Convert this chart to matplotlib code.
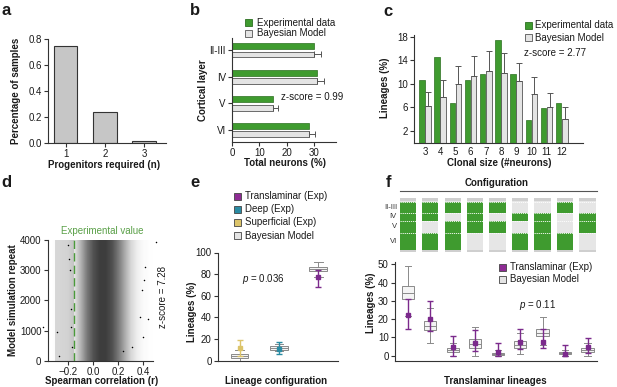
"""Six-panel lineage figure: progenitor counts, layer/clone-size fits, null
correlation cloud and configuration box plots (experiment vs Bayesian model)."""

import matplotlib

matplotlib.use("Agg")

import matplotlib.pyplot as plt
import numpy as np
from matplotlib.colors import LinearSegmentedColormap
from matplotlib.patches import Rectangle

plt.rcParams["font.family"] = ["Liberation Sans", "DejaVu Sans"]
plt.rcParams["mathtext.fontset"] = "custom"
plt.rcParams["mathtext.it"] = "Liberation Sans:italic"
plt.rcParams["mathtext.rm"] = "Liberation Sans"

INK, AXIS = "#1a1a1a", "#333333"
GREEN, GREEN_EDGE = "#3f9b2f", "#2c6f20"
MODEL_FILL, MODEL_EDGE = "#e4e4e4", "#555555"
BOX_EDGE = "#8a8a8a"
PURPLE, TEAL, GOLD = "#7b2a8c", "#2a8ba3", "#dcc46a"
W, H = 617, 387

# --- a: progenitors required
PROGENITORS = [1, 2, 3]
PROGENITOR_SHARE = [0.75, 0.235, 0.012]

# --- b: layer distribution
LAYERS = ["II-III", "IV", "V", "VI"]
LAYER_EXP = [30, 31, 15, 28]
LAYER_MODEL = [30, 31, 15, 28]
LAYER_MODEL_ERR = [2.4, 2.5, 1.9, 2.4]

# --- c: clonal size
CLONE_SIZES = [3, 4, 5, 6, 7, 8, 9, 10, 11, 12]
CLONE_EXP = [10.6, 14.5, 6.8, 10.6, 11.6, 17.5, 11.6, 3.9, 5.8, 6.8]
CLONE_MODEL = [6.2, 7.8, 9.9, 11.4, 12.2, 11.9, 10.4, 8.3, 6.1, 4.0]
CLONE_MODEL_ERR = [2.4, 2.9, 3.1, 3.3, 3.3, 3.3, 3.1, 2.8, 2.3, 2.0]

# --- d: simulated Spearman r (density of the 4000-repeat cloud, read off)
R_GRID = [-0.35, -0.30, -0.25, -0.20, -0.15, -0.10, -0.05, 0.00, 0.05,
          0.10, 0.15, 0.20, 0.25, 0.30, 0.35, 0.40, 0.45]
R_DENSITY = [0.0, 0.02, 0.03, 0.05, 0.14, 0.38, 0.66, 0.85, 0.95,
             0.95, 0.86, 0.66, 0.42, 0.2, 0.08, 0.03, 0.01]
R_OUTLIERS = [-0.40, -0.29, -0.27, -0.198, -0.19, -0.184, -0.18, -0.18, -0.17,
              0.50, 0.416, 0.41, 0.39, 0.376, 0.44, 0.40, 0.31, 0.24]
REPEAT_OUTLIERS = [1110, 945, 170, 3830, 3355, 3000, 1720, 1110, 445,
                   3945, 3110, 2670, 2330, 1445, 1390, 780, 445, 335]
R_EXPERIMENTAL = -0.15
R_SHADED_FROM = -0.30

# --- e: lineage configuration
GROUP_COLORS = [GOLD, TEAL, PURPLE]
GROUP_MODEL_LO = [0, 9, 77]
GROUP_MODEL_Q1 = [2.5, 10, 82.5]
GROUP_MODEL_MED = [4.5, 12, 85]
GROUP_MODEL_Q3 = [6.5, 13.6, 87]
GROUP_MODEL_HI = [10, 15.5, 91.5]
GROUP_EXP = [11.5, 10.8, 77.5]
GROUP_EXP_LO = [4, 6.2, 68.3]
GROUP_EXP_HI = [19.5, 17.5, 84]

# --- f: translaminar configurations (rows II-III, IV, V, VI; 1 = labelled)
CONFIG_PATTERNS = [
    [1, 1, 1, 1], [1, 1, 0, 1], [1, 0, 1, 1], [1, 1, 1, 0], [1, 0, 1, 0],
    [0, 1, 0, 1], [0, 1, 1, 1], [1, 0, 0, 1], [0, 1, 1, 0],
]
TRANS_LO = [21.5, 7, 0, 0, 0, 1, 6, 0, 0]
TRANS_Q1 = [31, 13.8, 1.8, 4.5, 0.2, 4.5, 10.8, 0.7, 1.8]
TRANS_MED = [34, 16.3, 3, 6.5, 0.8, 6, 12.5, 1.3, 3]
TRANS_Q3 = [38.2, 19, 4.1, 9, 1.5, 8, 14.8, 2, 4.2]
TRANS_HI = [48.8, 26.3, 7, 15.5, 3, 12.5, 21, 3, 7]
TRANS_EXP = [22.3, 20.3, 4.6, 6.7, 1.8, 7.6, 7.6, 0.8, 4.8]
TRANS_EXP_LO = [14.5, 13.6, 0, 2.8, 0, 3.5, 4, 0, 1.5]
TRANS_EXP_HI = [31, 30, 10.7, 13.8, 7, 14.5, 14.5, 5.8, 9.8]

fig = plt.figure(figsize=(W / 100, H / 100), dpi=100, facecolor="white")


def place(left, top, right, bottom):
    """Axes from pixel edges (origin top-left)."""
    return fig.add_axes([left / W, 1 - bottom / H, (right - left) / W, (bottom - top) / H])


def ftext(x, y, s, **kw):
    kw.setdefault("fontsize", 7)
    kw.setdefault("color", INK)
    fig.text(x / W, 1 - y / H, s, **kw)


def square(x, y, color, edge="#444444"):
    fig.add_artist(Rectangle((x / W, 1 - (y + 3.5) / H), 7 / W, 7 / H,
                             transform=fig.transFigure, facecolor=color,
                             edgecolor=edge, lw=0.6))


def style(ax):
    for side in ("top", "right"):
        ax.spines[side].set_visible(False)
    for side in ("left", "bottom"):
        ax.spines[side].set_color(AXIS)
        ax.spines[side].set_linewidth(0.8)
    ax.tick_params(length=3, width=0.8, color=AXIS, labelsize=7, pad=1.5, labelcolor=INK)


def label(x, y, s, rot=0):
    ftext(x, y, s, fontweight="bold", ha="center", va="center", rotation=rot)


for x, y, s in [(1, 15, "a"), (190, 15, "b"), (383, 16.5, "c"),
                (1, 187, "d"), (190, 187, "e"), (386, 187, "f")]:
    ftext(x, y, s, fontsize=12, fontweight="bold", va="baseline")

# a
ax = place(48, 39, 166, 143)
style(ax)
ax.bar(PROGENITORS, PROGENITOR_SHARE, width=0.6, color="#c6c6c6", edgecolor="#333333", lw=0.8)
ax.set_xlim(0.55, 3.56)
ax.set_ylim(0, 0.8)
ax.set_xticks(PROGENITORS)
ax.set_yticks([0, 0.2, 0.4, 0.6, 0.8], ["0.0", "0.2", "0.4", "0.6", "0.8"])
label(16, 91, "Percentage of samples", rot=90)
label(104, 165, "Progenitors required (n)")

# b
ax = place(232, 38, 336, 142)
style(ax)
pos = np.arange(len(LAYERS))
ax.barh(pos - 0.16, LAYER_EXP, height=0.22, color=GREEN, edgecolor=GREEN_EDGE, lw=0.5)
ax.barh(pos + 0.16, LAYER_MODEL, height=0.22, color=MODEL_FILL, edgecolor=MODEL_EDGE, lw=0.6,
        xerr=[np.zeros(len(LAYERS)), LAYER_MODEL_ERR],
        error_kw=dict(ecolor=MODEL_EDGE, elinewidth=0.7, capsize=2, capthick=0.7))
ax.set_ylim(3.45, -0.46)
ax.set_xlim(0, 38)
ax.set_yticks(pos, LAYERS)
ax.set_xticks([0, 10, 20, 30])
square(245, 22.7, GREEN, GREEN_EDGE)
square(245, 33.3, MODEL_FILL, MODEL_EDGE)
ftext(257, 22.7, "Experimental data", va="center")
ftext(257, 33.3, "Bayesian Model", va="center")
ftext(281, 97, "z-score = 0.99", va="center")
label(203, 90, "Cortical layer", rot=90)
label(285, 163, "Total neurons (%)")

# c
ax = place(414.5, 35, 583, 142.5)
style(ax)
sizes = np.array(CLONE_SIZES)
ax.bar(sizes - 0.2, CLONE_EXP, 0.36, color=GREEN, edgecolor=GREEN_EDGE, lw=0.5)
ax.bar(sizes + 0.2, CLONE_MODEL, 0.36, color=MODEL_FILL, edgecolor=MODEL_EDGE, lw=0.6,
       yerr=[np.zeros(len(sizes)), CLONE_MODEL_ERR],
       error_kw=dict(ecolor=MODEL_EDGE, elinewidth=0.7, capsize=2, capthick=0.7))
ax.set_xlim(2.31, 13.4)
ax.set_ylim(0, 18.3)
ax.set_xticks(CLONE_SIZES)
ax.set_yticks([2, 6, 10, 14, 18])
ax.tick_params(axis="x", length=0, pad=3)
square(525, 25, GREEN, GREEN_EDGE)
square(525, 37.7, MODEL_FILL, MODEL_EDGE)
ftext(535, 25, "Experimental data", va="center")
ftext(535, 37.7, "Bayesian Model", va="center")
ftext(524, 52.7, "z-score = 2.77", va="center")
label(385, 88, "Lineages (%)", rot=90)
label(499, 163, "Clonal size (#neurons)")

# d
ax = place(47.7, 240, 153, 360.7)
style(ax)
ax.axvspan(R_SHADED_FROM, R_EXPERIMENTAL, color="#dadada", lw=0, zorder=0)
step = R_GRID[1] - R_GRID[0]
cloud = LinearSegmentedColormap.from_list("cloud", [(0, 0, 0, 0), (0, 0, 0, 0.8)])
ax.imshow(np.array([R_DENSITY]), cmap=cloud, vmin=0, vmax=1, aspect="auto",
          interpolation="bilinear", zorder=1,
          extent=[R_GRID[0] - step / 2, R_GRID[-1] + step / 2, 0, 4000])
ax.scatter(R_OUTLIERS, REPEAT_OUTLIERS, s=1.2, color="black", lw=0, clip_on=False, zorder=2)
ax.axvline(R_EXPERIMENTAL, color="#4b9a3b", lw=1, ls=(0, (6, 3)), zorder=3)
ax.set_xlim(-0.362, 0.478)
ax.set_ylim(0, 4000)
ax.set_xticks([-0.2, 0, 0.2, 0.4], ["\u22120.2", "0.0", "0.2", "0.4"])
ax.set_yticks([0, 1000, 2000, 3000, 4000])
ftext(102, 231, "Experimental value", color="#5aa048", ha="center", va="center")
ftext(163, 297, "z-score = 7.28", ha="center", va="center", rotation=90)
label(13, 300, "Model simulation repeat", rot=90)
label(102, 381, "Spearman correlation (r)")

# e
ax = place(218, 252.5, 338, 360.7)
style(ax)
groups = [1, 2, 3]
stats = [dict(whislo=lo, q1=q1, med=md, q3=q3, whishi=hi)
         for lo, q1, md, q3, hi in zip(GROUP_MODEL_LO, GROUP_MODEL_Q1, GROUP_MODEL_MED,
                                       GROUP_MODEL_Q3, GROUP_MODEL_HI)]
line = dict(color=BOX_EDGE, lw=0.7)
ax.bxp(stats, positions=groups, widths=0.45, showfliers=False, patch_artist=True,
       boxprops=dict(facecolor="#f4f4f4", edgecolor=BOX_EDGE, lw=0.7),
       whiskerprops=line, capprops=line, medianprops=line)
for x, mean, lo, hi, colour in zip(groups, GROUP_EXP, GROUP_EXP_LO, GROUP_EXP_HI, GROUP_COLORS):
    ax.errorbar(x, mean, yerr=[[mean - lo], [hi - mean]], fmt="s", ms=3.5, color=colour,
                elinewidth=1, capsize=2.5, capthick=1, zorder=4)
ax.set_xlim(0.45, 3.5)
ax.set_ylim(0, 100)
ax.set_xticks([])
ax.set_yticks([0, 20, 40, 60, 80, 100])
for y, colour, text in [(196, "#8e2b94", "Translaminar (Exp)"), (209, TEAL, "Deep (Exp)"),
                        (222.3, GOLD, "Superficial (Exp)"), (235.7, MODEL_FILL, "Bayesian Model")]:
    square(234.5, y, colour)
    ftext(245, y, text, va="center")
ftext(263, 279.3, "$p$ = 0.036", ha="center", va="center")
label(192, 312, "Lineages (%)", rot=90)
label(276, 381, "Lineage configuration")

# f: configuration key
cols = np.arange(1, len(CONFIG_PATTERNS) + 1)
key = place(395, 196, 597, 252)
key.set_axis_off()
key.set_xlim(0.43, 9.42)
key.set_ylim(252, 196)
col_w = 0.73
layer_top = [202.3, 213.3, 220.7, 233.3]
layer_h = [11, 7.4, 12.6, 16.2]
key.bar(cols, 53, bottom=198.3, width=col_w, color="#e6e6e6", lw=0)
key.bar(cols, 2.3, bottom=198.3, width=col_w, color="#cfcfcf", lw=0)
key.bar(cols, 2, bottom=249.5, width=col_w, color="#cfcfcf", lw=0)
for row, (top, h) in enumerate(zip(layer_top, layer_h)):
    flags = [p[row] for p in CONFIG_PATTERNS]
    key.bar(cols, h, bottom=top, width=col_w, lw=0,
            color=[GREEN if f else "none" for f in flags])
    key.hlines(np.full(len(cols), top), cols - col_w / 2, cols + col_w / 2,
               colors="white", lw=0.6, linestyles=(0, (1.5, 1)))
for name, top, h in zip(LAYERS, layer_top, layer_h):
    ftext(397, top + h / 2, name, fontsize=5.5, ha="right", va="center", color="#333333")
ftext(497, 183, "Configuration", fontweight="bold", ha="center", va="center")
fig.add_artist(plt.Line2D([400 / W, 597 / W], [1 - 191 / H, 1 - 191 / H],
                          color="#555555", lw=0.8))

# f: box plots
ax = place(395, 262, 597, 360.7)
style(ax)
stats = [dict(whislo=lo, q1=q1, med=md, q3=q3, whishi=hi)
         for lo, q1, md, q3, hi in zip(TRANS_LO, TRANS_Q1, TRANS_MED, TRANS_Q3, TRANS_HI)]
ax.bxp(stats, positions=cols, widths=0.55, showfliers=False, patch_artist=True,
       boxprops=dict(facecolor="#f4f4f4", edgecolor=BOX_EDGE, lw=0.7),
       whiskerprops=line, capprops=line, medianprops=line)
for x, mean, lo, hi in zip(cols, TRANS_EXP, TRANS_EXP_LO, TRANS_EXP_HI):
    ax.errorbar(x, mean, yerr=[[mean - lo], [hi - mean]], fmt="s", ms=3.5, color=PURPLE,
                elinewidth=1, capsize=2.5, capthick=1, zorder=4)
ax.set_xlim(0.43, 9.42)
ax.set_ylim(-2.7, 51.2)
ax.set_xticks([])
ax.set_yticks([0, 10, 20, 30, 40, 50])
square(498.5, 267.3, "#8e2b94")
square(498.5, 279.3, MODEL_FILL)
ftext(510, 267.3, "Translaminar (Exp)", va="center")
ftext(510, 279.3, "Bayesian Model", va="center")
ftext(537.5, 305, "$p$ = 0.11", ha="center", va="center")
label(371, 303, "Lineages (%)", rot=90)
label(495, 381, "Translaminar lineages")

fig.savefig("out.png", dpi=100, facecolor="white")
